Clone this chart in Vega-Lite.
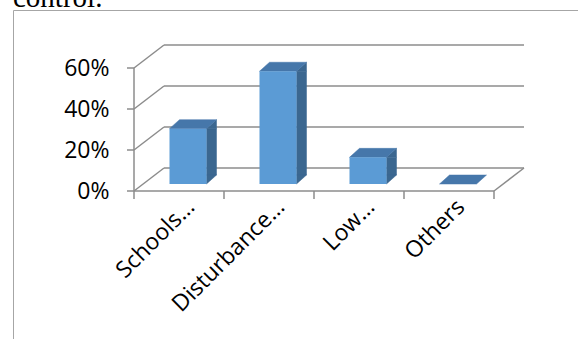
{
  "$schema": "https://vega.github.io/schema/vega-lite/v6.json",
  "width": 565,
  "height": 329,
  "autosize": {"type": "none"},
  "padding": {"left": 13, "top": 10, "right": 0, "bottom": 0},
  "background": "white",
  "config": {"view": {"stroke": null}},
  "title": {"text": "control.", "anchor": "start", "frame": "group", "font": "Liberation Serif", "fontSize": 29, "fontWeight": "normal", "color": "#000000", "offset": -3},
  "datasets": {
    "bars": [
      {"cat": "Schools…", "v": 0.27},
      {"cat": "Disturbance…", "v": 0.55},
      {"cat": "Low…", "v": 0.13},
      {"cat": "Others", "v": 0}
    ],
    "grid": [{"v": 0}, {"v": 0.2}, {"v": 0.4}, {"v": 0.6}],
    "one": [{"k": 1}]
  },
  "layer": [
    {
      "data": {"name": "grid"},
      "mark": {"type": "rule", "color": "#8c8c8c", "strokeWidth": 1.5, "xOffset": 30, "x2Offset": 30, "yOffset": -23},
      "encoding": {
        "x": {
          "datum": "Schools…", "type": "nominal", "bandPosition": 0,
          "scale": {"type": "band", "domain": [" ", "Schools…", "Disturbance…", "Low…", "Others"], "paddingInner": 0, "paddingOuter": 0.63889, "align": 0.26957},
          "axis": {"orient": "top", "values": ["Schools…", "Disturbance…", "Low…", "Others"], "domain": true, "domainColor": "#a6a6a6", "domainWidth": 1, "ticks": false, "tickSize": 0, "grid": false, "labelAngle": -45, "labelAlign": "right", "labelBaseline": "middle", "labelPadding": -193, "labelOffset": 12, "labelFont": "Open Sans", "labelFontSize": 23, "labelColor": "#000000", "labelOverlap": false, "title": null}
        },
        "x2": {"datum": "Others", "bandPosition": 1},
        "y": {
          "field": "v", "type": "quantitative",
          "scale": {"type": "linear", "domain": [-0.72195, 0.88293], "nice": false, "zero": false},
          "axis": {"orient": "left", "domain": true, "domainColor": "#a6a6a6", "domainWidth": 1, "ticks": false, "tickSize": 0, "grid": false, "values": [0, 0.2, 0.4, 0.6], "format": ".0%", "labelPadding": -96, "labelAlign": "right", "labelBaseline": "middle", "labelFont": "Open Sans", "labelFontSize": 23, "labelColor": "#000000", "labelOverlap": false, "labelFlush": false, "title": null}
        }
      }
    },
    {
      "data": {"name": "grid"},
      "mark": {"type": "rule", "color": "#8c8c8c", "strokeWidth": 1.5, "x2Offset": 30, "y2Offset": -23},
      "encoding": {
        "x": {"datum": "Schools…", "type": "nominal", "bandPosition": 0},
        "x2": {"datum": "Schools…", "bandPosition": 0},
        "y": {"field": "v", "type": "quantitative"},
        "y2": {"field": "v"}
      }
    },
    {
      "data": {"name": "one"},
      "mark": {"type": "rule", "color": "#8c8c8c", "strokeWidth": 1.5},
      "encoding": {
        "x": {"datum": "Schools…", "type": "nominal", "bandPosition": 0},
        "y": {"datum": 0, "type": "quantitative"},
        "y2": {"datum": 0.6}
      }
    },
    {
      "data": {"name": "one"},
      "mark": {"type": "rule", "color": "#8c8c8c", "strokeWidth": 1.5},
      "encoding": {
        "x": {"datum": "Schools…", "type": "nominal", "bandPosition": 0},
        "x2": {"datum": "Others", "bandPosition": 1},
        "y": {"datum": 0, "type": "quantitative"}
      }
    },
    {
      "data": {"name": "grid"},
      "mark": {"type": "rule", "color": "#8c8c8c", "strokeWidth": 1.5, "x2Offset": -7},
      "encoding": {
        "x": {"datum": "Schools…", "type": "nominal", "bandPosition": 0},
        "x2": {"datum": "Schools…", "bandPosition": 0},
        "y": {"field": "v", "type": "quantitative"}
      }
    },
    {
      "data": {"name": "one"},
      "mark": {"type": "rule", "color": "#8c8c8c", "strokeWidth": 1.5, "x2Offset": 30, "y2Offset": -23},
      "encoding": {
        "x": {"datum": "Others", "type": "nominal", "bandPosition": 1},
        "x2": {"datum": "Others", "bandPosition": 1},
        "y": {"datum": 0, "type": "quantitative"},
        "y2": {"datum": 0}
      }
    },
    {
      "data": {"name": "bars"},
      "mark": {"type": "rule", "color": "#8c8c8c", "strokeWidth": 1.5, "y2Offset": 8},
      "encoding": {
        "x": {"field": "cat", "type": "nominal", "bandPosition": 0},
        "y": {"datum": 0, "type": "quantitative"},
        "y2": {"datum": 0}
      }
    },
    {
      "data": {"name": "one"},
      "mark": {"type": "rule", "color": "#8c8c8c", "strokeWidth": 1.5, "y2Offset": 8},
      "encoding": {
        "x": {"datum": "Others", "type": "nominal", "bandPosition": 1},
        "y": {"datum": 0, "type": "quantitative"},
        "y2": {"datum": 0}
      }
    },
    {
      "data": {"name": "bars"},
      "transform": [{"filter": "datum.v > 0"}],
      "mark": {"type": "rect", "color": "#3b6790", "stroke": "#3b6790", "strokeWidth": 0.5, "xOffset": 9, "x2Offset": 19, "yOffset": -7, "y2Offset": -16},
      "encoding": {
        "x": {"field": "cat", "type": "nominal", "bandPosition": 0.7056},
        "x2": {"field": "cat", "bandPosition": 0.7056},
        "y": {"field": "v", "type": "quantitative"},
        "y2": {"datum": 0}
      }
    },
    {
      "data": {"name": "bars"},
      "transform": [{"filter": "datum.v > 0"}],
      "mark": {"type": "point", "shape": "M 18.5 0 L 28.5 -9 L 28.5 0 Z", "size": 4, "filled": true, "opacity": 1, "color": "#3b6790", "stroke": "#3b6790", "strokeWidth": 0.5, "xOffset": 9, "yOffset": -7},
      "encoding": {
        "x": {"field": "cat", "type": "nominal"},
        "y": {"field": "v", "type": "quantitative"}
      }
    },
    {
      "data": {"name": "bars"},
      "transform": [{"filter": "datum.v > 0"}],
      "mark": {"type": "point", "shape": "M 18.5 -9 L 18.5 0 L 28.5 -9 Z", "size": 4, "filled": true, "opacity": 1, "color": "#3b6790", "stroke": "#3b6790", "strokeWidth": 0.5, "xOffset": 9, "yOffset": -7},
      "encoding": {
        "x": {"field": "cat", "type": "nominal"},
        "y": {"datum": 0, "type": "quantitative"}
      }
    },
    {
      "data": {"name": "bars"},
      "mark": {"type": "point", "shape": "M -18.5 0 L 18.5 0 L 28.5 -9 L -8.5 -9 Z", "size": 4, "filled": true, "opacity": 1, "color": "#4677aa", "stroke": "#4677aa", "strokeWidth": 0.5, "xOffset": 9, "yOffset": -7},
      "encoding": {
        "x": {"field": "cat", "type": "nominal"},
        "y": {"field": "v", "type": "quantitative"}
      }
    },
    {
      "data": {"name": "bars"},
      "transform": [{"filter": "datum.v > 0"}],
      "mark": {"type": "rect", "color": "#5b9bd5", "xOffset": 9, "x2Offset": 9, "yOffset": -7, "y2Offset": -7},
      "encoding": {
        "x": {"field": "cat", "type": "nominal", "bandPosition": 0.2944},
        "x2": {"field": "cat", "bandPosition": 0.7056},
        "y": {"field": "v", "type": "quantitative"},
        "y2": {"datum": 0}
      }
    }
  ]
}
